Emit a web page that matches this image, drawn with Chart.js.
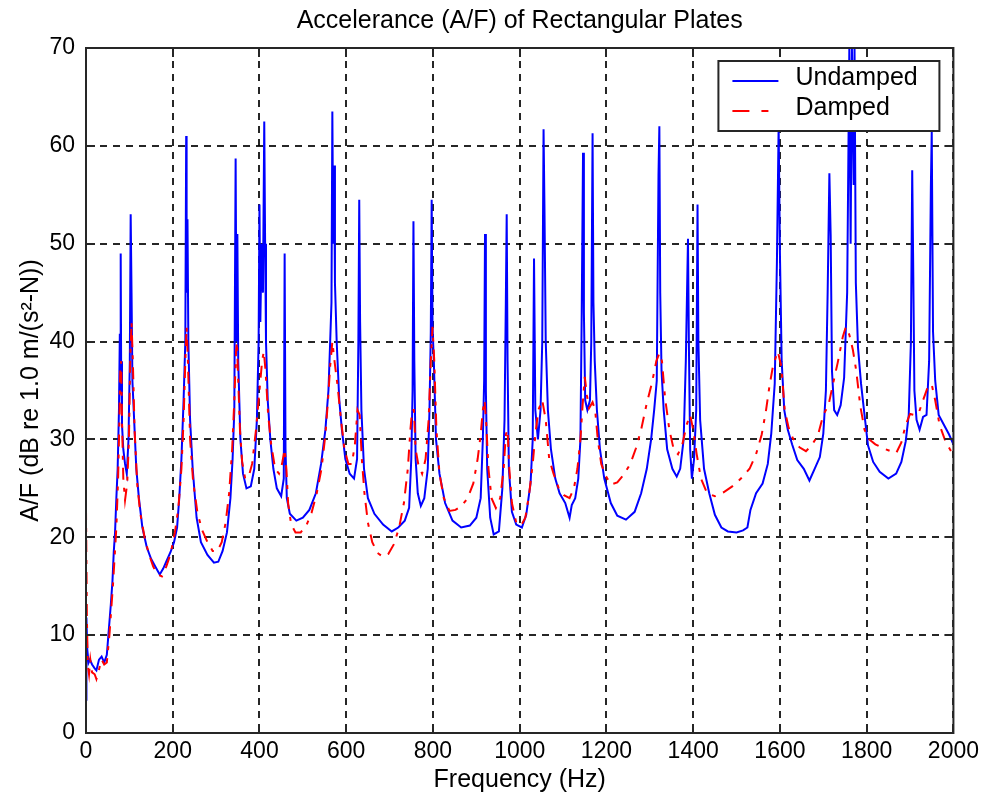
<!DOCTYPE html>
<html>
<head>
    <title>Accelerance of Rectangular Plates</title>
    <script src="https://cdn.jsdelivr.net/npm/chart.js"></script>
    <style>
        body { margin: 0; background: #fff; }
    </style>
</head>
<body>
    <canvas id="chart" width="984" height="806"></canvas>

    <script>
        // frequency (Hz) and level (dB)
        const undampedHz = [
            0, 1, 3, 6, 9, 14, 20, 24, 30, 36, 42, 48, 52, 57, 61, 64, 67, 70, 73, 76,
            78, 79, 80, 81, 83, 86, 90, 94, 98, 101, 103, 105, 107, 111, 116, 122, 130, 140, 150, 160,
            170, 178, 186, 195, 203, 210, 215, 220, 225, 229, 231, 232, 234, 236, 240, 246, 255, 265, 280, 295,
            305, 315, 325, 333, 338, 342, 345, 347, 349, 351, 356, 362, 370, 380, 388, 394, 398, 400, 402, 405,
            408, 411, 413, 415, 419, 425, 432, 440, 450, 456, 458, 460, 463, 470, 485, 500, 515, 530, 542, 552,
            559, 563, 566, 568, 570, 572, 574, 578, 584, 590, 598, 608, 618, 625, 628, 630, 632, 635, 641, 650,
            665, 685, 705, 720, 735, 745, 750, 753, 755, 757, 760, 765, 772, 780, 788, 792, 795, 797, 799, 802,
            807, 815, 828, 845, 865, 885, 900, 910, 915, 918, 920, 922, 925, 932, 940, 952, 960, 965, 968, 970,
            972, 975, 982, 992, 1005, 1015, 1025, 1030, 1033, 1036, 1042, 1048, 1052, 1055, 1057, 1060, 1065, 1072, 1082, 1092,
            1105, 1115, 1120, 1128, 1135, 1140, 1143, 1146, 1148, 1151, 1156, 1162, 1165, 1168, 1170, 1173, 1178, 1185, 1195, 1210,
            1225, 1245, 1265, 1280, 1293, 1303, 1310, 1316, 1320, 1322, 1324, 1327, 1332, 1340, 1352, 1362, 1370, 1378, 1383, 1388,
            1390, 1393, 1397, 1402, 1407, 1410, 1412, 1416, 1425, 1437, 1450, 1465, 1480, 1500, 1515, 1525, 1532, 1545, 1560, 1572,
            1580, 1588, 1593, 1597, 1600, 1604, 1610, 1618, 1628, 1640, 1655, 1668, 1680, 1692, 1700, 1706, 1710, 1714, 1717, 1720,
            1725, 1732, 1740, 1748, 1755, 1760, 1763, 1766, 1770, 1772, 1775, 1780, 1787, 1795, 1803, 1815, 1830, 1850, 1868, 1880,
            1890, 1897, 1902, 1905, 1907, 1910, 1915, 1922, 1930, 1938, 1944, 1948, 1950, 1953, 1958, 1966, 1978, 1990, 2000
        ];
        const undampedDb = [
            3.4, 11.8, 8.5, 7.2, 7.5, 7.0, 6.6, 6.4, 7.5, 7.8, 7.2, 8.0, 10.2, 13.0, 15.5, 18.5, 20.5, 24.0, 27.0, 33.0,
            40.8, 35, 49.0, 38, 31.5, 29, 27.5, 26.5, 30, 38, 53.0, 45, 36, 32, 27, 24, 21, 19, 17.8, 17.0,
            16.2, 16.8, 17.6, 18.5, 19.5, 21, 24, 28, 34, 40, 61.0, 45, 52.5, 40, 32, 27, 22, 19.5, 18.2, 17.4,
            17.5, 18.6, 20.5, 24, 28, 33, 58.7, 40, 51.0, 38, 30, 26.5, 25, 25.2, 27, 32, 40, 54.0, 42, 50,
            45, 62.5, 50, 40, 34, 30, 27, 25, 24.2, 26, 49.0, 29, 24, 22.4, 21.7, 22.0, 22.8, 24.5, 27.5, 31,
            35, 40, 44, 63.5, 50, 58.0, 46, 40, 34, 31, 28, 26.5, 26, 28, 40, 54.5, 42, 33, 27, 24,
            22.4, 21.3, 20.6, 21, 21.7, 23, 28, 35, 52.3, 38, 28, 24.5, 23.2, 24, 27, 33, 41, 54.5, 41.5, 38,
            30, 26.5, 23.5, 21.7, 21.0, 21.2, 22, 24, 30, 36, 51.0, 35, 27, 22, 20.3, 20.6, 25, 32, 44, 53.0,
            38, 27, 22.6, 21.3, 21, 22.3, 25.5, 30, 48.5, 33, 30, 33, 40, 61.7, 54, 40, 33, 29, 26, 24.5,
            23.5, 22, 23.3, 24, 26, 30, 43, 59.3, 43, 34, 33, 34, 40, 61.3, 44, 38, 33, 29, 26, 23.5,
            22.2, 21.8, 22.6, 24.5, 27, 30, 33, 36, 57, 62.0, 45, 37, 33, 29, 27, 26.2, 27, 30, 38, 50.5,
            40, 29, 26, 28, 33, 54.0, 40, 32, 27, 24.5, 22.3, 21, 20.6, 20.5, 20.7, 21, 22.8, 24.5, 25.5, 27.5,
            30.6, 35.7, 48, 62.0, 49, 38, 33, 31, 29.5, 27.9, 27, 25.8, 27, 28.2, 30.6, 35, 45, 57.2, 50.8, 37,
            33, 32.5, 33.5, 36.3, 45, 70, 50, 70, 56, 70, 46, 39.4, 35.7, 32.5, 29.4, 27.7, 26.7, 26, 26.5, 27.7,
            29.8, 32.5, 40, 57.5, 49, 35, 32, 31, 32.3, 32.5, 38, 55.8, 61.5, 41, 36, 32.5, 31.5, 30.5, 29.5
        ];

        const dampedHz = [
            0, 2, 4, 7, 10, 14, 20, 24, 30, 36, 42, 48, 54, 58, 62, 66, 70, 74, 77, 79,
            81, 83, 86, 90, 95, 99, 102, 105, 108, 112, 118, 125, 135, 145, 155, 165, 175, 185, 195, 205,
            213, 220, 225, 229, 232, 235, 240, 247, 257, 268, 280, 292, 303, 313, 322, 330, 337, 342, 346, 348,
            351, 355, 360, 367, 375, 383, 392, 400, 406, 410, 414, 420, 427, 436, 445, 452, 458, 462, 466, 473,
            483, 495, 508, 520, 532, 543, 552, 558, 563, 568, 573, 580, 588, 596, 605, 613, 620, 626, 631, 636,
            642, 650, 660, 672, 685, 697, 710, 722, 733, 742, 748, 752, 756, 760, 766, 775, 783, 790, 795, 799,
            803, 808, 815, 825, 838, 852, 866, 880, 893, 903, 910, 915, 919, 923, 928, 935, 945, 955, 963, 968,
            972, 976, 982, 992, 1003, 1013, 1022, 1030, 1036, 1043, 1052, 1060, 1068, 1078, 1090, 1102, 1115, 1125, 1133, 1140,
            1145, 1150, 1155, 1160, 1168, 1174, 1180, 1188, 1198, 1210, 1225, 1240, 1255, 1268, 1280, 1292, 1305, 1315, 1322, 1328,
            1335, 1345, 1355, 1365, 1375, 1385, 1393, 1400, 1408, 1418, 1432, 1450, 1470, 1490, 1510, 1530, 1545, 1558, 1568, 1576,
            1584, 1595, 1603, 1611, 1620, 1630, 1645, 1660, 1675, 1688, 1700, 1712, 1722, 1733, 1745, 1752, 1760, 1768, 1776, 1785,
            1795, 1806, 1820, 1838, 1855, 1868, 1880, 1890, 1900, 1910, 1920, 1930, 1942, 1950, 1958, 1968, 1980, 1992, 2000
        ];
        const dampedDb = [
            23, 12, 7, 6, 7.5, 6.2, 6.0, 5.5, 6.5, 7.5, 7.0, 7.2, 10, 12.5, 15, 18, 21, 26, 32, 37,
            38, 32, 26, 23.8, 25.5, 30, 38, 42, 38, 31, 25.5, 22.5, 20, 18.3, 17, 16.2, 16, 17, 18.3, 20.5,
            23, 27, 32, 38, 41.5, 38, 30, 25.7, 22.5, 20.7, 19.5, 18.6, 18.6, 19.5, 21.5, 24.5, 29, 34, 39, 40,
            36, 31, 27.7, 26, 26.2, 27.5, 31, 35, 38, 39, 37, 32.5, 29.5, 27, 26.5, 27.5, 29, 27, 23.5, 21.3,
            20.5, 20.5, 21.2, 22.5, 24.5, 27, 30.5, 34, 37.5, 40, 38, 35.5, 32, 29, 27.5, 27.5, 29.5, 33, 32.5, 28,
            24.5, 21.5, 19.5, 18.4, 18, 18.3, 19.3, 21, 23.5, 27, 31, 33, 33, 29, 27.5, 26.5, 28, 32, 38, 41.5,
            38, 31, 26.5, 24, 22.7, 22.8, 23.2, 24, 25.5, 28, 30.5, 33, 34, 31.5, 27, 24, 23, 24, 27, 30.5,
            31, 27, 23.5, 21.5, 21.2, 22, 24.5, 27.5, 30.5, 33, 34, 32, 28, 26.5, 25, 24.3, 24, 25, 27, 30,
            33.5, 36.4, 34.5, 33.2, 33.8, 33, 30, 27.5, 26.3, 25.4, 25.6, 26.4, 27.5, 29.1, 31, 33.5, 35.8, 38, 38.8, 38,
            34.3, 31, 29, 28.5, 29.5, 31.5, 32.5, 31, 28.5, 26, 24.5, 24.2, 24.6, 25.2, 26, 27, 28.5, 30.5, 33, 35.5,
            37.5, 39, 37.5, 33, 31.2, 30.1, 29.2, 28.8, 29.5, 30.5, 32.5, 33.5, 35.6, 37.8, 40.5, 41.5, 40.7, 39.2, 37, 33.5,
            31, 30, 29.5, 29.1, 28.8, 28.6, 29.7, 31.5, 32.6, 32.5, 32.7, 34, 35.5, 35.6, 34, 31.5, 30, 29, 28.4
        ];

        const seriesNames = ['Undamped', 'Damped'];
        const chartTitle = 'Accelerance (A/F) of Rectangular Plates';
        const xTickStep = 200;
        const yTickStep = 10;

        const fontFamily = '"Liberation Sans", Arial, Helvetica, sans-serif';
        const axisColor = '#262626';
        const redDash = [12, 8, 4, 8];

        function toPoints(xs, ys) {
            return xs.map((x, i) => ({ x: x, y: ys[i] }));
        }

        // box on top/right, matlab style ticks pointing inwards, title over the axes, legend
        const framePlugin = {
            id: 'frame',
            afterDatasetsDraw(chart) {
                const ctx = chart.ctx;
                const a = chart.chartArea;
                const xs = chart.scales.x;
                const ys = chart.scales.y;
                const len = 9;
                ctx.save();
                ctx.strokeStyle = axisColor;
                ctx.lineWidth = 2;
                ctx.beginPath();
                ctx.moveTo(a.left, a.top);
                ctx.lineTo(a.right, a.top);
                ctx.lineTo(a.right, a.bottom);
                ctx.lineTo(a.left, a.bottom);
                ctx.lineTo(a.left, a.top);
                for (let v = xs.min; v <= xs.max; v += xTickStep) {
                    const px = Math.round(xs.getPixelForValue(v));
                    ctx.moveTo(px, a.bottom); ctx.lineTo(px, a.bottom - len);
                    ctx.moveTo(px, a.top); ctx.lineTo(px, a.top + len);
                }
                for (let v = ys.min; v <= ys.max; v += yTickStep) {
                    const py = Math.round(ys.getPixelForValue(v));
                    ctx.moveTo(a.left, py); ctx.lineTo(a.left + len, py);
                    ctx.moveTo(a.right, py); ctx.lineTo(a.right - len, py);
                }
                ctx.stroke();
                ctx.restore();
            },
            afterDraw(chart) {
                const ctx = chart.ctx;
                const a = chart.chartArea;
                ctx.save();
                ctx.fillStyle = '#000';
                ctx.font = '25px ' + fontFamily;
                ctx.textBaseline = 'middle';
                ctx.textAlign = 'center';
                ctx.fillText(chartTitle, (a.left + a.right) / 2, 21);

                // legend box, top right inside the axes
                const bx = a.right - 235, by = a.top + 13, bw = 221, bh = 70;
                ctx.fillStyle = '#fff';
                ctx.fillRect(bx, by, bw, bh);
                ctx.strokeStyle = axisColor;
                ctx.lineWidth = 2;
                ctx.strokeRect(bx, by, bw, bh);

                const ds = chart.data.datasets;
                const rows = [by + 20, by + 50];
                rows.forEach((ry, i) => {
                    ctx.beginPath();
                    ctx.strokeStyle = ds[i].borderColor;
                    ctx.lineWidth = 2;
                    ctx.setLineDash(i === 1 ? [17, 12, 7, 100] : []);
                    ctx.moveTo(bx + 14, ry);
                    ctx.lineTo(bx + 60, ry);
                    ctx.stroke();
                    ctx.setLineDash([]);
                    ctx.fillStyle = '#000';
                    ctx.textAlign = 'left';
                    ctx.fillText(ds[i].label, bx + 77, ry - 3);
                });
                ctx.restore();
            }
        };

        Chart.defaults.font.family = fontFamily;
        Chart.defaults.color = '#000';

        new Chart(document.getElementById('chart'), {
            type: 'line',
            data: {
                datasets: [
                    {
                        label: seriesNames[0],
                        data: toPoints(undampedHz, undampedDb),
                        borderColor: '#0000ff',
                        borderWidth: 2,
                        pointRadius: 0,
                        tension: 0,
                        order: 1
                    },
                    {
                        label: seriesNames[1],
                        data: toPoints(dampedHz, dampedDb),
                        borderColor: '#ff0000',
                        borderWidth: 2,
                        borderDash: redDash,
                        pointRadius: 0,
                        tension: 0,
                        order: 0
                    }
                ]
            },
            options: {
                responsive: false,
                animation: false,
                devicePixelRatio: 1,
                layout: { padding: { left: 0, right: 30, top: 48, bottom: 0 } },
                plugins: {
                    legend: { display: false },
                    tooltip: { enabled: false },
                    title: { display: false }
                },
                scales: {
                    x: {
                        type: 'linear',
                        min: 0,
                        max: 2000,
                        afterFit(scale) { scale.height = 73; },
                        ticks: {
                            stepSize: xTickStep, font: { size: 23 }, color: '#000', padding: 5, maxRotation: 0,
                            callback: v => String(v)
                        },
                        grid: { color: 'rgba(0,0,0,0.85)', lineWidth: 2, drawTicks: false },
                        border: { display: true, color: axisColor, width: 2, dash: [7, 6] },
                        title: { display: true, text: 'Frequency (Hz)', font: { size: 25 }, color: '#000', padding: { top: 0, bottom: 11 } }
                    },
                    y: {
                        min: 0,
                        max: 70,
                        afterFit(scale) { scale.width = 86; },
                        ticks: {
                            stepSize: yTickStep, font: { size: 23 }, color: '#000', padding: 11,
                            callback: v => String(v)
                        },
                        grid: { color: 'rgba(0,0,0,0.85)', lineWidth: 2, drawTicks: false },
                        border: { display: true, color: axisColor, width: 2, dash: [7, 6] },
                        title: { display: true, text: 'A/F (dB re 1.0 m/(s²-N))', font: { size: 25 }, color: '#000', padding: { top: 16, bottom: 0 } }
                    }
                }
            },
            plugins: [framePlugin]
        });
    </script>
</body>
</html>
